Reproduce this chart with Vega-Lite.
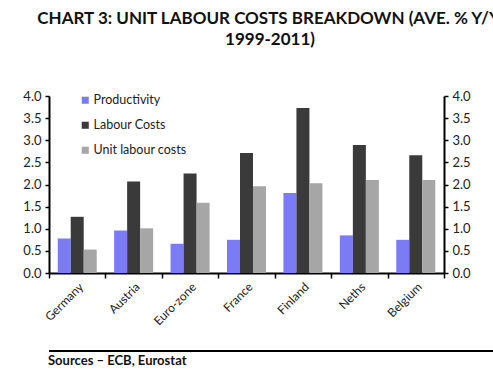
{
  "$schema": "https://vega.github.io/schema/vega-lite/v6.json",
  "padding": {"left": 0, "top": 10, "right": 3, "bottom": 2},
  "background": "white",
  "title": {
    "text": ["CHART 3: UNIT LABOUR COSTS BREAKDOWN (AVE. % Y/Y,", "1999-2011)"],
    "fontSize": 17,
    "font": "Lato",
    "fontWeight": "bold",
    "lineHeight": 21,
    "anchor": "middle",
    "offset": 41,
    "color": "#111111"
  },
  "config": {
    "view": {"stroke": null},
    "font": "Lato",
    "axis": {
      "domainColor": "#000000",
      "domainWidth": 2,
      "tickColor": "#000000",
      "tickWidth": 1.5,
      "tickSize": 5,
      "labelColor": "#222222",
      "labelFont": "Lato",
      "grid": false
    }
  },
  "datasets": {
    "main": [
      {"country": "Germany", "series": "Productivity", "value": 0.78},
      {"country": "Germany", "series": "Labour Costs", "value": 1.27},
      {"country": "Germany", "series": "Unit labour costs", "value": 0.53},
      {"country": "Austria", "series": "Productivity", "value": 0.96},
      {"country": "Austria", "series": "Labour Costs", "value": 2.07},
      {"country": "Austria", "series": "Unit labour costs", "value": 1.01},
      {"country": "Euro-zone", "series": "Productivity", "value": 0.66},
      {"country": "Euro-zone", "series": "Labour Costs", "value": 2.25},
      {"country": "Euro-zone", "series": "Unit labour costs", "value": 1.59},
      {"country": "France", "series": "Productivity", "value": 0.75},
      {"country": "France", "series": "Labour Costs", "value": 2.71},
      {"country": "France", "series": "Unit labour costs", "value": 1.96},
      {"country": "Finland", "series": "Productivity", "value": 1.81},
      {"country": "Finland", "series": "Labour Costs", "value": 3.73},
      {"country": "Finland", "series": "Unit labour costs", "value": 2.03},
      {"country": "Neths", "series": "Productivity", "value": 0.85},
      {"country": "Neths", "series": "Labour Costs", "value": 2.89},
      {"country": "Neths", "series": "Unit labour costs", "value": 2.10},
      {"country": "Belgium", "series": "Productivity", "value": 0.75},
      {"country": "Belgium", "series": "Labour Costs", "value": 2.66},
      {"country": "Belgium", "series": "Unit labour costs", "value": 2.10}
    ]
  },
  "vconcat": [
    {
      "width": 395,
      "height": 177,
      "data": {"name": "main"},
      "layer": [
        {
          "mark": {"type": "bar"},
          "encoding": {
            "x": {
              "field": "country",
              "type": "nominal",
              "sort": ["Germany", "Austria", "Euro-zone", "France", "Finland", "Neths", "Belgium"],
              "scale": {"paddingInner": 0, "paddingOuter": 0},
              "axis": {"title": null, "labelAngle": -45, "tickBand": "extent", "labelFontSize": 12, "labelPadding": 3}
            },
            "xOffset": {
              "field": "series",
              "type": "nominal",
              "sort": ["Productivity", "Labour Costs", "Unit labour costs"],
              "scale": {"paddingInner": 0, "paddingOuter": 0.67}
            },
            "y": {
              "field": "value",
              "type": "quantitative",
              "stack": null,
              "scale": {"domain": [0, 4], "nice": false},
              "axis": {"title": null, "values": [0, 0.5, 1, 1.5, 2, 2.5, 3, 3.5, 4], "format": ".1f", "labelFontSize": 13, "tickSize": 4, "labelPadding": 4, "minExtent": 49}
            },
            "color": {
              "field": "series",
              "type": "nominal",
              "sort": ["Productivity", "Labour Costs", "Unit labour costs"],
              "scale": {"domain": ["Productivity", "Labour Costs", "Unit labour costs"], "range": ["#7b7bf5", "#3a3a3a", "#a6a6a6"]},
              "legend": {
                "title": null,
                "orient": "none",
                "legendX": 30,
                "legendY": -2,
                "symbolType": "square",
                "symbolSize": 50,
                "symbolStrokeWidth": 0,
                "labelFontSize": 12.5,
                "labelColor": "#222222",
                "labelOffset": 2,
                "rowPadding": 12
              }
            }
          }
        },
        {
          "mark": {"type": "bar", "opacity": 0},
          "encoding": {
            "x": {"field": "country", "type": "nominal", "sort": ["Germany", "Austria", "Euro-zone", "France", "Finland", "Neths", "Belgium"]},
            "y": {
              "field": "value",
              "type": "quantitative",
              "stack": null,
              "scale": {"domain": [0, 4], "nice": false},
              "axis": {"orient": "right", "title": null, "values": [0, 0.5, 1, 1.5, 2, 2.5, 3, 3.5, 4], "format": ".1f", "labelFontSize": 13, "tickSize": 4, "labelPadding": 4}
            }
          }
        }
      ],
      "resolve": {"axis": {"y": "independent"}}
    },
    {
      "width": 490,
      "height": 2,
      "data": {"values": [{"a": 0, "b": 1}]},
      "mark": {"type": "rule", "strokeWidth": 2, "color": "#000000"},
      "encoding": {
        "x": {"field": "a", "type": "quantitative", "scale": {"domain": [0, 1]}, "axis": null},
        "x2": {"field": "b"}
      },
      "title": {"text": "Sources – ECB, Eurostat", "orient": "bottom", "anchor": "start", "fontSize": 13, "fontWeight": "bold", "font": "Lato", "offset": 3, "color": "#111111"}
    }
  ],
  "resolve": {"legend": {"color": "independent"}},
  "spacing": 23
}
